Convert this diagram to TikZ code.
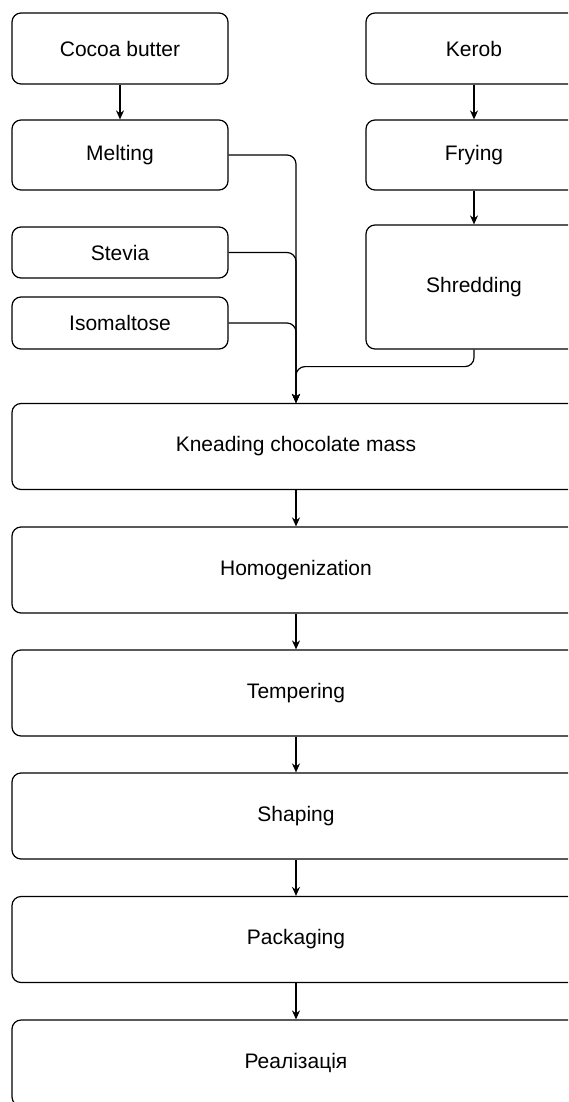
\documentclass[tikz,border=0pt]{standalone}
\usepackage{fontspec}
\setmainfont{Liberation Sans}
\usepackage{tikz}
\usetikzlibrary{arrows.meta}

\begin{document}
\begin{tikzpicture}[x=1pt, y=-1pt, line width=1.2pt, >={Stealth[length=9pt,width=8pt]},
    every node/.style={draw, rounded corners=9pt, minimum width=216pt, inner sep=0pt, font=\fontsize{21}{25}\selectfont},
    wide/.style={minimum width=568pt, minimum height=86pt}]
    \useasboundingbox (0,0) rectangle (568,1102);
    \clip (0,0) rectangle (568,1102);

    % left column
    \node[minimum height=71pt] (cocoa) at (120,48.5) {Cocoa butter};
    \node[minimum height=70pt] (melting) at (120,155) {Melting};
    \node[minimum height=51pt] (stevia) at (120,252.5) {Stevia};
    \node[minimum height=52pt] (isomalt) at (120,323) {Isomaltose};

    % right column
    \node[minimum height=71pt] (kerob) at (474,48.5) {Kerob};
    \node[minimum height=70pt] (frying) at (474,155) {Frying};
    \node[minimum height=124pt] (shredding) at (474,287) {Shredding};

    % main line
    \node[wide] (kneading) at (296,446.5) {Kneading chocolate mass};
    \node[wide] (homog) at (296,570) {Homogenization};
    \node[wide] (tempering) at (296,693) {Tempering};
    \node[wide] (shaping) at (296,816) {Shaping};
    \node[wide] (packaging) at (296,939.5) {Packaging};
    \node[wide] (sale) at (296,1063) {Реалізація};

    \draw[->] (cocoa) -- (melting);
    \draw[->] (kerob) -- (frying);
    \draw[->] (frying) -- (shredding);

    \draw[->, rounded corners=9pt] (melting.east) -| (kneading.north);
    \draw[->, rounded corners=9pt] (stevia.east) -| (kneading.north);
    \draw[->, rounded corners=9pt] (isomalt.east) -| (kneading.north);
    \draw[->, rounded corners=9pt] (shredding.south) -- ++(0,17) -| (kneading.north);

    \draw[->] (kneading) -- (homog);
    \draw[->] (homog) -- (tempering);
    \draw[->] (tempering) -- (shaping);
    \draw[->] (shaping) -- (packaging);
    \draw[->] (packaging) -- (sale);
\end{tikzpicture}
\end{document}
